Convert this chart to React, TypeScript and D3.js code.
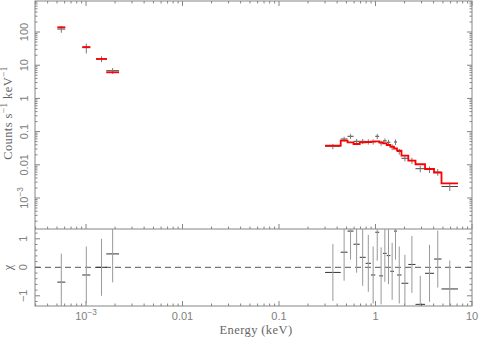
import React from 'react';
import * as d3 from 'd3';

// Spectrum bins (keV), low-energy group then the 0.3-7 keV group
const energyLo = [5.04e-4, 9.15e-4, 1.27e-3, 1.62e-3,
  0.300, 0.436, 0.513, 0.592, 0.686, 0.790, 0.898, 0.995, 1.092, 1.196,
  1.306, 1.423, 1.555, 1.671, 1.859, 2.188, 2.597, 3.26, 4.04, 4.83];
const energyHi = [6.10e-4, 1.108e-3, 1.65e-3, 2.20e-3,
  0.436, 0.513, 0.592, 0.686, 0.790, 0.898, 0.995, 1.092, 1.196, 1.306,
  1.423, 1.555, 1.671, 1.859, 2.188, 2.597, 3.26, 4.04, 4.83, 7.16];

// Counts s^-1 keV^-1
const counts = [123, 33.7, 15.4, 6.83,
  0.0361, 0.0598, 0.0722, 0.0510, 0.0510, 0.0497, 0.0497, 0.0722, 0.0454, 0.0528,
  0.0476, 0.0344, 0.0486, 0.0252, 0.0157, 0.0135, 0.00763, 0.00731, 0.00607, 0.00222];
const countErr = [28, 11, 3.1, 1.4,
  0.0065, 0.010, 0.012, 0.009, 0.009, 0.009, 0.009, 0.013, 0.008, 0.009,
  0.009, 0.007, 0.009, 0.005, 0.003, 0.0028, 0.0017, 0.0016, 0.0014, 0.0006];
const model = [139, 35.3, 15.4, 6.11,
  0.0376, 0.0532, 0.0476, 0.0423, 0.0476, 0.0486, 0.0497, 0.0510, 0.0476, 0.0444,
  0.0395, 0.0351, 0.0310, 0.0266, 0.0188, 0.0133, 0.0104, 0.00747, 0.00578, 0.00277];

// (data - model) / error
const residual = [-0.52, -0.27, 0.0, 0.47,
  -0.18, 0.53, 1.27, 0.81, 0.35, 0.14, -0.27, 1.23, -0.30, 0.49,
  0.41, -0.14, 1.27, -0.27, -0.56, 0.10, -1.30, -0.21, 0.29, -0.76];

const xMajor = [1e-3, 0.01, 0.1, 1, 10];
const xMajorLabels = ['10^-3', '0.01', '0.1', '1', '10'];
const yMajor = [100, 10, 1, 0.1, 0.01, 1e-3];
const yMajorLabels = ['100', '10', '1', '0.1', '0.01', '10^-3'];
const chiMajor = [1, 0, -1];
const chiLabels = ['1', '0', '\u22121'];

const W = 479;
const H = 344;
const left = 35;
const right = 472;
const top = 1;
const mid = 229;
const bottom = 306;

const frame = '#858585';
const labelColor = '#808080';
const dataColor = '#444';

function Label({ text }: { text: string }) {
  const parts = text.split('^');
  if (parts.length === 1) return <>{text}</>;
  return (
    <>
      {parts[0]}
      <tspan dy={-5} fontSize="0.75em">{'\u2212' + parts[1].replace('-', '')}</tspan>
    </>
  );
}

export default function App() {
  const x = d3.scaleLog().domain([2.96e-4, 10]).range([left, right]);
  const y = d3.scaleLog().domain([1.164e-4, 859]).range([mid, top]);
  const yc = d3.scaleLinear().domain([-1.358, 1.344]).range([bottom, mid]);

  const bins = energyLo.map((lo, i) => ({
    lo,
    hi: energyHi[i],
    c: Math.sqrt(lo * energyHi[i]),
    v: counts[i],
    e: countErr[i],
    m: model[i],
    r: residual[i],
  }));

  // group contiguous bins for the model histogram
  const groups: typeof bins[] = [];
  bins.forEach((b, i) => {
    if (i > 0 && Math.abs(energyHi[i - 1] - b.lo) < 1e-9) groups[groups.length - 1].push(b);
    else groups.push([b]);
  });
  const stepLine = d3.line<[number, number]>().x(d => x(d[0])).y(d => y(d[1]));

  const xMinor: number[] = [];
  for (let p = -4; p <= 0; p++) {
    for (let k = 2; k <= 9; k++) {
      const v = k * Math.pow(10, p);
      if (v > 2.96e-4 && v < 10) xMinor.push(v);
    }
  }
  const yMinor: number[] = [];
  for (let p = -4; p <= 2; p++) {
    for (let k = 2; k <= 9; k++) {
      const v = k * Math.pow(10, p);
      if (v > 1.164e-4 && v < 859) yMinor.push(v);
    }
  }
  const chiMinor = d3.range(-13, 14).map(k => k / 10).filter(v => Math.abs(v * 10) % 2 === 0 && ![-1, 0, 1].includes(v));

  const maj = 5;
  const min = 2.5;

  return (
    <svg width={W} height={H} style={{ position: 'absolute', left: 0, top: 0, background: '#fff' }}>
      <defs>
        <clipPath id="top-clip"><rect x={left} y={top} width={right - left} height={mid - top} /></clipPath>
        <clipPath id="bot-clip"><rect x={left} y={mid} width={right - left} height={bottom - mid} /></clipPath>
      </defs>

      {/* frames */}
      <rect x={left} y={top} width={right - left} height={bottom - top} fill="none" stroke={frame} strokeWidth={1} />
      <line x1={left} x2={right} y1={mid} y2={mid} stroke={frame} />

      {/* x ticks: top of upper panel, divider, bottom */}
      <g stroke={frame}>
        {[top, mid].map(yy => (
          <g key={yy}>
            {xMajor.map(v => <line key={'M' + v} x1={x(v)} x2={x(v)} y1={yy} y2={yy === top ? yy + maj : yy - maj} />)}
            {xMinor.map(v => <line key={'m' + v} x1={x(v)} x2={x(v)} y1={yy} y2={yy === top ? yy + min : yy - min} />)}
          </g>
        ))}
        {xMajor.map(v => <line key={'bM' + v} x1={x(v)} x2={x(v)} y1={bottom} y2={bottom - maj} />)}
        {xMinor.map(v => <line key={'bm' + v} x1={x(v)} x2={x(v)} y1={bottom} y2={bottom - min} />)}

        {/* y ticks upper panel */}
        {yMajor.map(v => (
          <g key={'yM' + v}>
            <line x1={left} x2={left + maj} y1={y(v)} y2={y(v)} />
            <line x1={right} x2={right - maj} y1={y(v)} y2={y(v)} />
          </g>
        ))}
        {yMinor.map(v => (
          <g key={'ym' + v}>
            <line x1={left} x2={left + min} y1={y(v)} y2={y(v)} />
            <line x1={right} x2={right - min} y1={y(v)} y2={y(v)} />
          </g>
        ))}

        {/* y ticks lower panel */}
        {chiMajor.map(v => (
          <g key={'cM' + v}>
            <line x1={left} x2={left + maj} y1={yc(v)} y2={yc(v)} />
            <line x1={right} x2={right - maj} y1={yc(v)} y2={yc(v)} />
          </g>
        ))}
        {chiMinor.map(v => (
          <g key={'cm' + v}>
            <line x1={left} x2={left + min} y1={yc(v)} y2={yc(v)} />
            <line x1={right} x2={right - min} y1={yc(v)} y2={yc(v)} />
          </g>
        ))}
      </g>

      {/* tick labels */}
      <g fill={labelColor} fontFamily="'Liberation Sans', Arial, sans-serif" fontSize={11}>
        {xMajor.map((v, i) => (
          <text key={v} x={x(v)} y={320} textAnchor="middle"><Label text={xMajorLabels[i]} /></text>
        ))}
        {yMajor.map((v, i) => (
          <text key={v} transform={`translate(28,${y(v)}) rotate(-90)`} textAnchor="middle"><Label text={yMajorLabels[i]} /></text>
        ))}
        {chiMajor.map((v, i) => (
          <text key={v} transform={`translate(27,${yc(v)}) rotate(-90)`} textAnchor="middle">{chiLabels[i]}</text>
        ))}
      </g>

      {/* axis titles */}
      <g fill="#666" fontFamily="'Liberation Serif', 'Times New Roman', serif" fontSize={12.5} letterSpacing={0.4}>
        <text x={256} y={334} textAnchor="middle">Energy (keV)</text>
        <text transform="translate(12,113) rotate(-90)" textAnchor="middle">
          Counts s<tspan dy={-5} fontSize="0.75em">{'\u22121'}</tspan>
          <tspan dy={5}> keV</tspan><tspan dy={-5} fontSize="0.75em">{'\u22121'}</tspan>
        </text>
        <text transform={`translate(12,${yc(0)}) rotate(-90)`} textAnchor="middle">χ</text>
      </g>

      {/* upper panel: data and model */}
      <g clipPath="url(#top-clip)">
        {bins.map((b, i) => (
          <g key={i} stroke={dataColor} strokeWidth={1}>
            <line x1={x(b.lo)} x2={x(b.hi)} y1={y(b.v)} y2={y(b.v)} />
            <line x1={x(b.c)} x2={x(b.c)} y1={y(Math.max(b.v - b.e, 1e-6))} y2={y(b.v + b.e)} stroke="#777" />
          </g>
        ))}
        {groups.map((g, i) => (
          <path
            key={i}
            d={stepLine(g.flatMap(b => [[b.lo, b.m], [b.hi, b.m]] as [number, number][])) || ''}
            fill="none"
            stroke="#ff0000"
            strokeWidth={1.8}
          />
        ))}
      </g>

      {/* lower panel: residuals */}
      <line x1={left} x2={right} y1={yc(0)} y2={yc(0)} stroke="#555" strokeDasharray="6,4" />
      <g clipPath="url(#bot-clip)" strokeWidth={1}>
        {bins.map((b, i) => (
          <g key={i}>
            <line x1={x(b.lo)} x2={x(b.hi)} y1={yc(b.r)} y2={yc(b.r)} stroke="#333" />
            <line x1={x(b.c)} x2={x(b.c)} y1={yc(b.r - 1)} y2={yc(b.r + 1)} stroke="#999" />
          </g>
        ))}
      </g>
    </svg>
  );
}
